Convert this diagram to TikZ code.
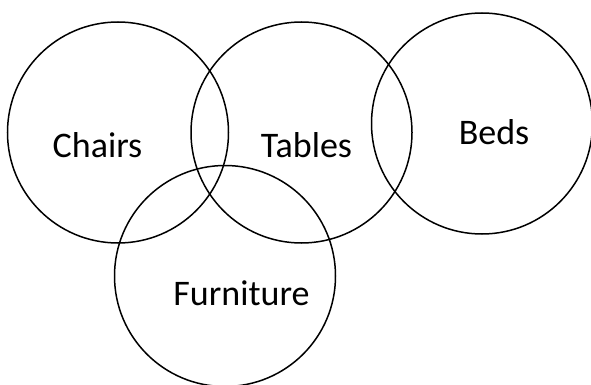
\documentclass[tikz,border=0pt]{standalone}
\usepackage{fontspec}
\setmainfont{Carlito}
\usetikzlibrary{positioning}

\begin{document}
\begin{tikzpicture}[
    x=1pt, y=-1pt,
    set/.style={
        circle, draw=black, line width=1.5pt, minimum size=221pt, inner sep=0pt
    },
    tag/.style={
        anchor=base, font=\fontsize{36}{40}\selectfont, text=black, inner sep=0pt
    }
]
\useasboundingbox (0,0) rectangle (591,385);

% Circles
\node[set] (chairs) at (118,132.5) {};
\node[set] (tables) at (301.5,132.5) {};
\node[set] (beds) at (482,123.5) {};
\node[set] (furniture) at (225,276) {};

% Labels
\node[tag] (chairstext) at (97.5,157) {Chairs};
\node[tag] (tablestext) at (306.5,157) {Tables};
\node[tag] (bedstext) at (494,144) {Beds};
\node[tag] (furnituretext) at (241.5,305) {Furniture};

\end{tikzpicture}
\end{document}
